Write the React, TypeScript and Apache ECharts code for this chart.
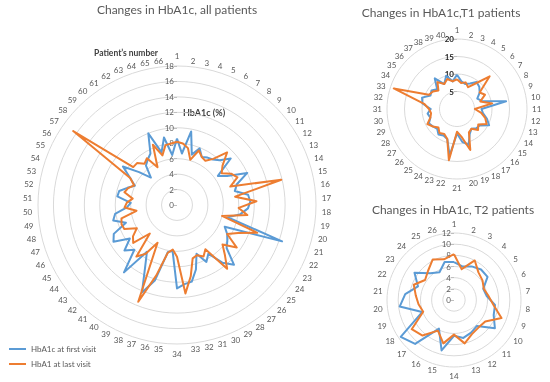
import React, { useEffect, useRef } from "react";
import * as echarts from "echarts";

const allPatients = ["1","2","3","4","5","6","7","8","9","10","11","12","13","14","15","16","17","18","19","20","21","22","23","24","25","26","27","28","29","30","31","32","33","34","35","36","37","38","39","40","41","42","43","44","45","46","47","48","49","50","51","52","53","54","55","56","57","58","59","60","61","62","63","64","65","66"];
const t1Patients = ["1","2","3","4","5","6","7","8","9","10","11","12","13","14","15","16","17","18","19","20","21","22","23","24","25","26","27","28","29","30","31","32","33","34","35","36","37","38","39","40"];
const t2Patients = ["1","2","3","4","5","6","7","8","9","10","11","12","13","14","15","16","17","18","19","20","21","22","23","24","25","26"];

const allFirst = [8.6, 6.7, 9.7, 6.8, 7.9, 7.0, 7.3, 7.5, 8.0, 9.2,
  6.5, 7.5, 10.0, 8.2, 7.7, 9.3, 9.5, 9.2, 8.3, 6.8,
  14.4, 6.8, 7.5, 8.0, 8.5, 10.7, 9.5, 7.5, 8.3, 6.8,
  8.7, 10.1, 10.3, 10.8, 6.0, 6.2, 10.2, 12.2, 9.0, 7.2,
  11.1, 8.0, 9.0, 7.5, 9.5, 9.0, 7.0, 8.5, 8.1, 6.5,
  6.0, 7.8, 7.7, 6.8, 6.0, 7.0, 8.6, 6.5, 4.9, 6.5,
  7.0, 7.5, 10.0, 7.1, 8.9, 6.5];
const allLast = [8.2, 8.0, 7.5, 6.1, 7.6, 7.0, 6.8, 7.6, 9.4, 7.8,
  7.1, 8.1, 8.6, 7.3, 13.9, 7.6, 10.3, 8.0, 9.2, 6.0,
  11.0, 8.7, 7.5, 9.5, 7.8, 9.0, 10.5, 6.8, 7.5, 7.0,
  7.2, 9.4, 11.5, 6.7, 5.8, 6.3, 9.5, 13.5, 5.5, 7.5,
  8.5, 5.1, 7.5, 7.0, 6.0, 7.5, 7.6, 7.4, 5.3, 6.8,
  6.5, 5.8, 7.0, 6.7, 6.1, 7.0, 16.5, 7.5, 7.5, 6.8,
  7.2, 5.5, 8.4, 6.7, 7.9, 8.0];

const t1First = [9.8, 8.0, 7.5, 8.2, 9.5, 9.0, 8.0, 6.5, 7.5, 14.2,
  7.0, 7.5, 9.0, 10.3, 8.0, 7.8, 7.0, 8.0, 10.8, 9.5,
  7.0, 13.5, 9.0, 8.5, 9.0, 8.0, 8.5, 9.0, 8.0, 8.5,
  7.5, 10.0, 10.5, 8.5, 9.0, 8.0, 10.8, 8.0, 10.0, 8.0];
const t1Last = [8.5, 7.5, 8.0, 7.0, 9.0, 13.2, 8.0, 9.0, 7.0, 10.2,
  5.1, 7.0, 8.5, 9.5, 7.5, 8.5, 7.0, 7.5, 12.3, 8.0,
  6.5, 14.8, 9.0, 8.0, 8.5, 7.5, 8.5, 9.5, 8.0, 7.5,
  8.0, 9.5, 19.0, 9.0, 8.5, 7.5, 9.5, 8.0, 9.0, 8.0];

const t2First = [6.8, 6.2, 6.8, 7.3, 7.3, 5.6, 5.9, 7.4, 7.6, 8.9,
  6.2, 6.6, 7.0, 6.4, 9.3, 5.8, 10.5, 11.6, 6.1, 9.8,
  8.8, 6.9, 8.6, 6.4, 5.6, 7.0];
const t2Last = [8.2, 5.7, 8.0, 6.6, 6.2, 5.7, 6.2, 7.1, 9.1, 6.8,
  6.6, 6.9, 8.0, 6.2, 8.0, 6.2, 8.5, 9.2, 5.9, 6.4,
  6.9, 7.7, 6.3, 7.0, 8.2, 7.5];

const seriesNames = ["HbA1c at first visit", "HbA1 at last visit"];
const titles = ["Changes in HbA1c, all patients", "Changes in HbA1c,T1 patients", "Changes in HbA1c, T2 patients"];

const BLUE = "#5B9BD5";
const ORANGE = "#ED7D31";
const GRID = "#D9D9D9";
const TXT = "#595959";
const FONT = "Lato, 'Open Sans', sans-serif";

// ECharts lays radar indicators counter-clockwise; Excel goes clockwise.
// Keep item 1 at the top and list the rest in reverse so they run clockwise.
function clockwise<T>(arr: T[]): T[] {
  return [arr[0], ...arr.slice(1).reverse()];
}

function makeRadar(names: string[], max: number, split: number, center: number[], radius: number, nameGap: number, label: any) {
  const ordered = clockwise(names);
  return {
    center,
    radius,
    startAngle: 90,
    shape: "circle",
    splitNumber: split,
    axisName: { color: TXT, fontSize: 8, fontFamily: FONT },
    nameGap,
    axisLine: { show: false },
    splitArea: { show: false },
    splitLine: { lineStyle: { color: GRID, width: 1 } },
    indicator: ordered.map((n, i) =>
      i === 0
        ? { name: n, min: 0, max, axisLabel: label, axisTick: { show: true, length: 3, lineStyle: { color: "#BFBFBF" } } }
        : { name: n, min: 0, max }
    ),
  };
}

function makeSeries(idx: number, first: number[], last: number[]) {
  return {
    type: "radar",
    radarIndex: idx,
    symbol: "none",
    data: [
      { name: seriesNames[0], value: clockwise(first), lineStyle: { color: BLUE, width: 2 }, itemStyle: { color: BLUE } },
      { name: seriesNames[1], value: clockwise(last), lineStyle: { color: ORANGE, width: 2 }, itemStyle: { color: ORANGE } },
    ],
  };
}

export default function App() {
  const ref = useRef<HTMLDivElement>(null);
  useEffect(() => {
    if (!ref.current) return;
    const chart = echarts.init(ref.current, undefined, { renderer: "svg" });
    const grayLabel = { show: true, color: TXT, fontSize: 8, fontFamily: FONT, margin: 3 };
    const titleStyle = { fontSize: 12, fontWeight: "normal", color: TXT, fontFamily: FONT };
    chart.setOption({
      animation: false,
      color: [BLUE, ORANGE],
      textStyle: { fontFamily: FONT },
      title: [
        { text: titles[0], left: 177, top: 3, padding: 0, textAlign: "center", textStyle: titleStyle },
        { text: titles[1], left: 441, top: 6, padding: 0, textAlign: "center", textStyle: titleStyle },
        { text: titles[2], left: 453, top: 203, padding: 0, textAlign: "center", textStyle: titleStyle },
      ],
      legend: {
        orient: "vertical",
        left: 4,
        top: 340,
        icon: "rect",
        itemWidth: 17,
        itemHeight: 2,
        itemGap: 7,
        data: seriesNames,
        textStyle: { fontSize: 8, color: TXT, fontFamily: FONT },
      },
      radar: [
        makeRadar(allPatients, 18, 9, [177, 205], 139, 6, grayLabel),
        makeRadar(t1Patients, 20, 4, [457, 109], 70, 5, { show: true, showMinLabel: false, color: "#262626", fontWeight: "bold", fontSize: 8, fontFamily: FONT, margin: 3 }),
        makeRadar(t2Patients, 12, 6, [454, 300], 67, 5, grayLabel),
      ],
      series: [
        makeSeries(0, allFirst, allLast),
        makeSeries(1, t1First, t1Last),
        makeSeries(2, t2First, t2Last),
      ],
      graphic: [
        { type: "text", left: 94, top: 48, style: { text: "Patient\u2019s number", fontSize: 8.5, fontWeight: "bold", fill: "#404040", fontFamily: FONT } },
        { type: "text", left: 183, top: 108, style: { text: "HbA1c (%)", fontSize: 9, fontWeight: "bold", fill: "#404040", fontFamily: FONT } },
      ],
    });
    return () => chart.dispose();
  }, []);
  return <div ref={ref} style={{ position: "fixed", left: 0, top: 0, width: 550, height: 382 }} />;
}
